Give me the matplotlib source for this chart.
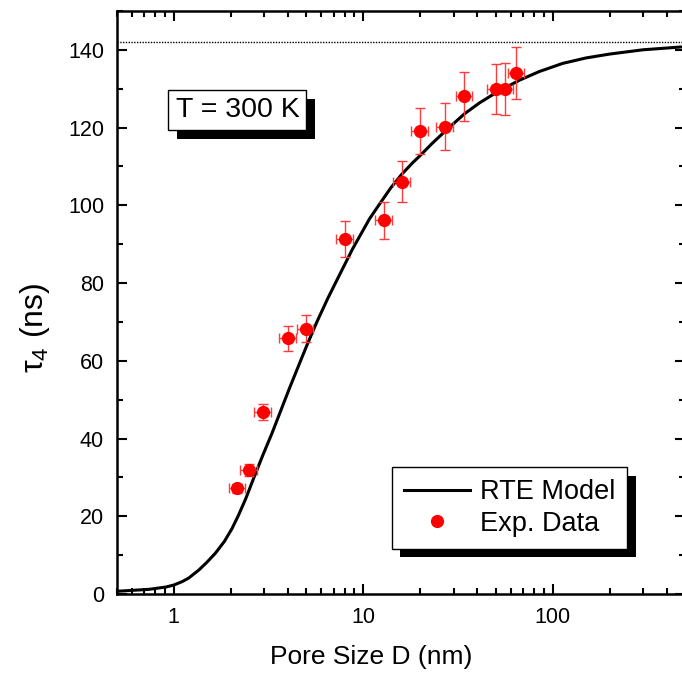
import numpy as np
import matplotlib
matplotlib.use("Agg")
import matplotlib.pyplot as plt
from matplotlib.ticker import MultipleLocator, FuncFormatter, LogLocator
from matplotlib.lines import Line2D
import matplotlib.patheffects as pe

plt.rcParams['font.family'] = ['Liberation Sans', 'DejaVu Sans']
plt.rcParams['mathtext.fontset'] = 'custom'
plt.rcParams['mathtext.rm'] = 'Liberation Sans'
plt.rcParams['mathtext.it'] = 'Liberation Sans:italic'

# RTE model curve (pore size in nm, tau_4 in ns)
model_D = [0.5, 0.74, 0.91, 1.0, 1.11, 1.2, 1.36, 1.5, 1.66, 1.85, 2.03, 2.2, 2.4,
           2.62, 2.96, 3.3, 3.63, 4.09, 4.5, 5.0, 5.7, 6.5, 7.4, 8.8, 10.8, 12.2,
           14.0, 16.0, 18.3, 20.0, 23.0, 27.0, 34.2, 41.0, 50.0, 56.0, 67.0, 85.0,
           113.0, 150.0, 200.0, 300.0, 500.0]
model_tau = [0.7, 1.2, 1.8, 2.3, 3.2, 4.1, 6.2, 8.2, 10.5, 13.5, 16.8, 20.3, 24.5,
             29.3, 35.8, 41.3, 46.5, 53.0, 58.0, 63.5, 70.0, 76.0, 81.5, 88.8, 96.5,
             100.3, 104.5, 108.0, 111.0, 112.8, 115.8, 119.0, 123.5, 126.3, 128.9,
             130.2, 132.2, 134.4, 136.5, 137.9, 138.9, 140.0, 140.8]

# measured lifetimes
exp_D = [2.17, 2.5, 2.96, 4.0, 4.97, 7.99, 12.9, 16.0, 19.95, 27.0, 34.2, 50.0, 56.1, 64.3]
exp_tau = [27.2, 31.9, 46.8, 65.8, 68.3, 91.3, 96.1, 106.1, 119.0, 120.2, 128.0, 129.9, 129.9, 134.0]
exp_tau_err = [1.2, 1.5, 2.1, 3.2, 3.4, 4.6, 4.8, 5.3, 5.9, 6.0, 6.4, 6.5, 6.6, 6.6]
exp_D_err = [0.1 * d for d in exp_D]

tau_bulk = 142.0

fig = plt.figure(figsize=(6.82, 6.82), dpi=100)
ax = fig.add_axes([0.171, 0.129, 0.8335, 0.855])

ax.axhline(tau_bulk, color='black', ls=(0, (1, 1)), lw=1.0, zorder=1)
ax.plot(model_D, model_tau, color='black', lw=2.2, zorder=2)
ax.errorbar(exp_D, exp_tau, xerr=exp_D_err, yerr=exp_tau_err, fmt='o', color='red',
            ms=8.5, ecolor='#ff3b3b', elinewidth=1.0, capsize=3.5, capthick=1.0, zorder=3)

ax.set_xscale('log')
ax.set_xlim(0.5, 500)
ax.set_ylim(0, 150)
ax.xaxis.set_major_locator(LogLocator(base=10, numticks=10))
ax.xaxis.set_minor_locator(LogLocator(base=10, subs=np.arange(2, 10), numticks=20))
ax.xaxis.set_major_formatter(FuncFormatter(lambda v, p: '%g' % v))
ax.yaxis.set_major_locator(MultipleLocator(20))
ax.yaxis.set_minor_locator(MultipleLocator(10))

for s in ax.spines.values():
    s.set_linewidth(1.8)
ax.tick_params(which='both', direction='in', top=True, right=True, width=1.5)
ax.tick_params(which='major', length=7.5, labelsize=15.5, pad=9)
ax.tick_params(which='minor', length=4.5)

ax.set_xlabel('Pore Size D (nm)', fontsize=19)
ax.xaxis.set_label_coords(0.4475, -0.087)
ax.set_ylabel('τ$_{\\mathrm{4}}$ (ns)', fontsize=23)
ax.yaxis.set_label_coords(-0.114, 0.456)

shadow = [pe.withSimplePatchShadow(offset=(6.2, -6.2), shadow_rgbFace='black', alpha=1.0)]

txt = ax.text(0.2126, 0.8295, 'T = 300 K', transform=ax.transAxes, fontsize=20.5,
              ha='center', va='center',
              bbox=dict(boxstyle='square,pad=0.25', fc='white', ec='black', lw=1.0))
txt.get_bbox_patch().set_path_effects(shadow)

handles = [Line2D([], [], color='black', lw=2.2),
           Line2D([], [], ls='none', marker='o', color='red', ms=8.5)]
leg = ax.legend(handles, ['RTE Model', 'Exp. Data'], loc='upper left',
                bbox_to_anchor=(0.484, 0.218), borderaxespad=0, fontsize=19.5,
                frameon=True, fancybox=False, handlelength=2.45, handletextpad=0.35,
                labelspacing=0.2, borderpad=0.45)
frame = leg.get_frame()
frame.set_edgecolor('black')
frame.set_linewidth(1.0)
frame.set_alpha(1.0)
frame.set_path_effects(shadow)

fig.savefig('out.png', dpi=100)
